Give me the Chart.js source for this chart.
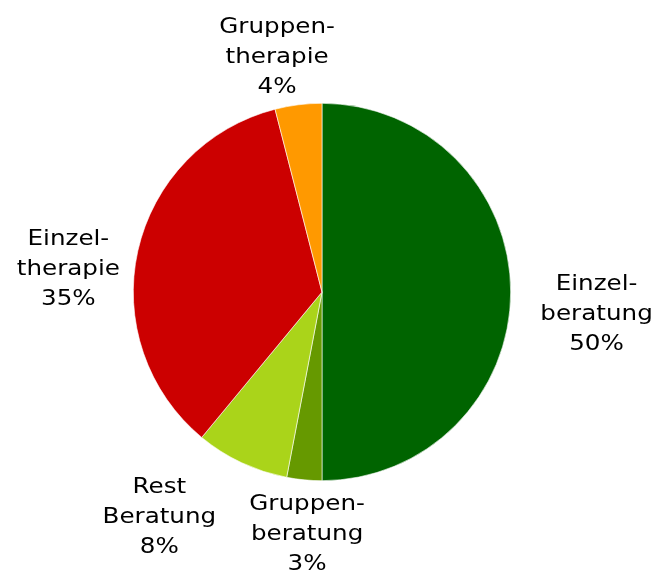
<!DOCTYPE html>
<html>
<head>
<meta charset="utf-8">
<script src="https://cdn.jsdelivr.net/npm/chart.js@4/dist/chart.umd.min.js"></script>
<style>
  html, body { margin: 0; padding: 0; background: #ffffff; }
  #wrap { width: 655px; height: 570px; }
</style>
</head>
<body>
<div id="wrap"><canvas id="pie" width="655" height="570"></canvas></div>
<script>
// Anteile der Leistungsarten (Prozent)
const categories = ['Einzelberatung', 'Gruppenberatung', 'Rest Beratung', 'Einzeltherapie', 'Gruppentherapie'];
const labelLines = [
    ['Einzel-', 'beratung'],
    ['Gruppen-', 'beratung'],
    ['Rest', 'Beratung'],
    ['Einzel-', 'therapie'],
    ['Gruppen-', 'therapie']
];
const shares = [50, 3, 8, 35, 4];
const sliceColors = ['#006400', '#669900', '#aad41a', '#cc0000', '#ff9900'];

// Lage der Beschriftung relativ zur Kreismitte (in Radius-Einheiten)
const labelOffsets = [
    [1.455, 0.148],
    [-0.079, 1.312],
    [-0.862, 1.222],
    [-1.344, -0.090],
    [-0.238, -1.212]
];

const LINE_HEIGHT = 30;
const TEXT_STRETCH = 1.2;   // breite Schrift

// Beschriftungen außerhalb des Kreises
const outsideLabels = {
    id: 'outsideLabels',
    afterDatasetsDraw(chart) {
        const ctx = chart.ctx;
        const meta = chart.getDatasetMeta(0);
        meta.data.forEach((arc, i) => {
            const r = arc.outerRadius;
            const cx = arc.x + labelOffsets[i][0] * r;
            const cy = arc.y + labelOffsets[i][1] * r;
            const lines = labelLines[i].concat([shares[i] + '%']);
            ctx.save();
            ctx.translate(cx, cy);
            ctx.scale(TEXT_STRETCH, 1);
            ctx.fillStyle = '#000000';
            ctx.font = '20.5px "DejaVu Sans"';
            ctx.textAlign = 'center';
            ctx.textBaseline = 'alphabetic';
            lines.forEach((text, k) => {
                ctx.fillText(text, 0, (k - 1) * LINE_HEIGHT);
            });
            ctx.restore();
        });
    }
};

new Chart(document.getElementById('pie'), {
    type: 'pie',
    data: {
        labels: categories,
        datasets: [{
            data: shares,
            backgroundColor: sliceColors,
            borderColor: '#ffffff',
            borderWidth: 0.6
        }]
    },
    options: {
        responsive: false,
        animation: false,
        layout: {
            padding: { top: 103, bottom: 89, left: 133, right: 144 }
        },
        plugins: {
            legend: { display: false },
            tooltip: { enabled: false }
        }
    },
    plugins: [outsideLabels]
});
</script>
</body>
</html>
